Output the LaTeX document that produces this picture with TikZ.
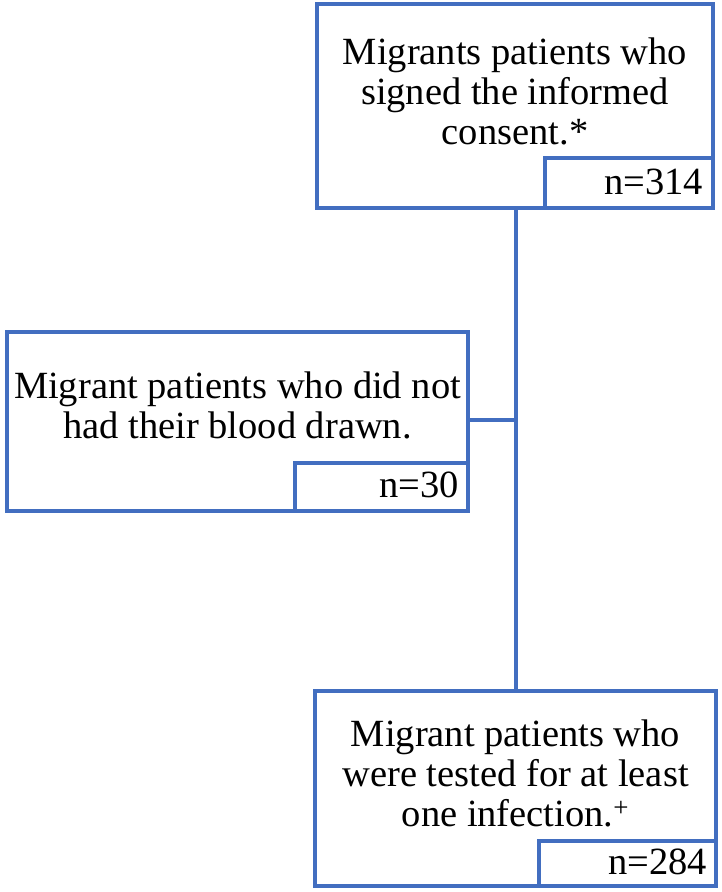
\documentclass[tikz,border=0pt]{standalone}
\usepackage{fontspec}
\setmainfont{Liberation Serif}
\definecolor{boxblue}{RGB}{66,110,192}
\begin{document}
\begin{tikzpicture}[x=1pt,y=-1pt,
  box/.style={draw=boxblue, line width=3.2pt, rectangle, inner sep=0pt, outer sep=0pt, fill=white},
  txt/.style={inner sep=0pt, outer sep=0pt, align=center, font=\fontsize{38.5}{40}\selectfont},
  ntxt/.style={inner sep=0pt, outer sep=0pt, anchor=base east, font=\fontsize{38.5}{40}\selectfont}]
\useasboundingbox (0,0) rectangle (722,892);
% boxes
\node[box, minimum width=396pt, minimum height=204pt] (top) at (515,106) {};
\node[box, minimum width=168pt, minimum height=50pt] (topn) at (629,183) {};
\node[box, minimum width=461pt, minimum height=179pt] (mid) at (237.5,421.5) {};
\node[box, minimum width=173pt, minimum height=48pt] (midn) at (381.5,487) {};
\node[box, minimum width=401pt, minimum height=195pt] (bot) at (515.5,788.5) {};
\node[box, minimum width=177pt, minimum height=45pt] (botn) at (627.5,863.5) {};
% texts (base anchor = baseline of last line)
\node[txt, anchor=base] (toptext) at (515,144) {Migrants patients who\\signed the informed\\consent.*};
\node[txt, anchor=base] (midtext) at (237.5,438) {Migrant patients who did not\\had their blood drawn.};
\node[txt, anchor=base] (bottext) at (515.5,826) {Migrant patients who\\were tested for at least\\one infection.\textsuperscript{+}};
\node[ntxt] (topntext) at (703,194) {n=314};
\node[ntxt] (midntext) at (459,497) {n=30};
\node[ntxt] (botntext) at (707,874) {n=284};
% connectors
\coordinate (jx) at (516,420);
\draw[boxblue, line width=3.2pt] (top.south -| jx) -- (bot.north -| jx);
\draw[boxblue, line width=3.2pt] (mid.east |- jx) -- (jx);
\end{tikzpicture}
\end{document}
